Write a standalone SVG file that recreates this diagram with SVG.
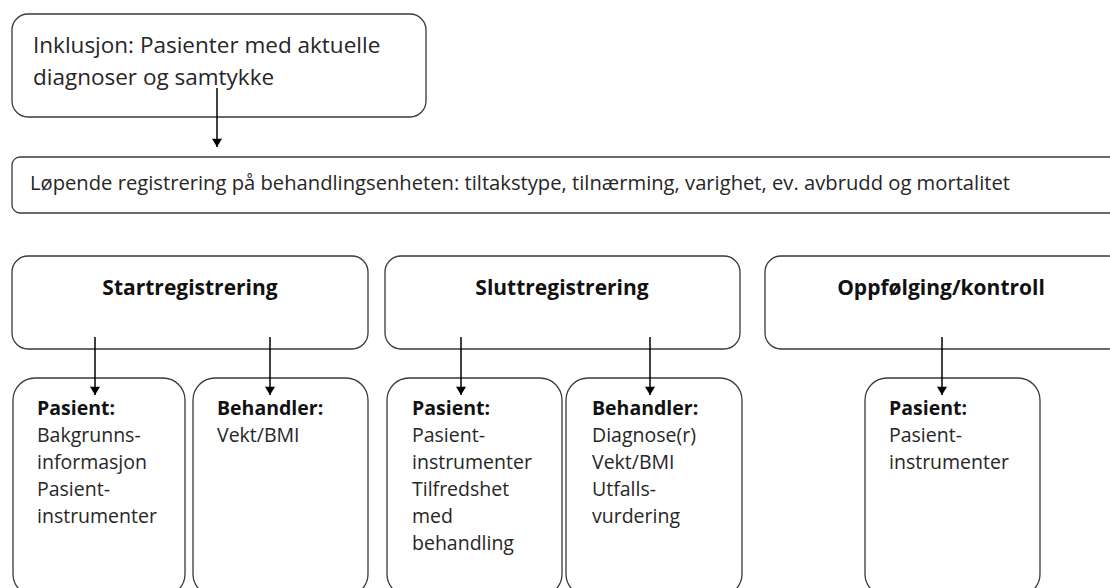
<svg xmlns="http://www.w3.org/2000/svg" width="1110" height="588" viewBox="0 0 1110 588">
  <defs>
    <marker id="arr" viewBox="0 0 10 12" refX="10" refY="6" markerWidth="12" markerHeight="10" markerUnits="userSpaceOnUse" orient="auto">
      <path d="M0,0 L10,6 L0,12 Z" fill="#000"/>
    </marker>
    <style>
      .box { fill: #fff; stroke: #3a3a3a; stroke-width: 1.3; }
      .t { font-family: "Open Sans", "Liberation Sans", sans-serif; fill: #262626; }
      .b { font-family: "Open Sans", "Liberation Sans", sans-serif; font-weight: bold; fill: #111; }
      .conn { stroke: #000; stroke-width: 1.5; fill: none; }
    </style>
  </defs>
  <rect width="1110" height="588" fill="#fff"/>

  <g id="inklusjon">
    <rect class="box" x="12" y="14" width="414" height="103" rx="16"/>
    <text class="t" font-size="22.5" x="33" y="53">Inklusjon: Pasienter med aktuelle</text>
    <text class="t" font-size="22.5" x="33" y="85">diagnoser og samtykke</text>
  </g>

  <g id="lopende">
    <rect class="box" x="12" y="157" width="1110" height="56" rx="8"/>
    <text class="t" font-size="20.2" x="30" y="190">Løpende registrering på behandlingsenheten: tiltakstype, tilnærming, varighet, ev. avbrudd og mortalitet</text>
  </g>

  <g id="start">
    <rect class="box" x="12" y="256" width="356" height="93" rx="16"/>
    <text class="b" font-size="21" x="190" y="295" text-anchor="middle">Startregistrering</text>
  </g>
  <g id="slutt">
    <rect class="box" x="385" y="256" width="355" height="93" rx="16"/>
    <text class="b" font-size="21" x="562" y="295" text-anchor="middle">Sluttregistrering</text>
  </g>
  <g id="oppfolging">
    <rect class="box" x="765" y="256" width="360" height="93" rx="16"/>
    <text class="b" font-size="21" x="941" y="295" text-anchor="middle">Oppfølging/kontroll</text>
  </g>

  <g id="start-pasient">
    <rect class="box" x="13" y="378" width="172" height="218" rx="22"/>
    <text class="b" font-size="19.5" x="37" y="415">Pasient:</text>
    <text class="t" font-size="19.5">
      <tspan x="37" y="442">Bakgrunns-</tspan>
      <tspan x="37" y="469">informasjon</tspan>
      <tspan x="37" y="496">Pasient-</tspan>
      <tspan x="37" y="523">instrumenter</tspan>
    </text>
  </g>
  <g id="start-behandler">
    <rect class="box" x="193" y="378" width="175" height="218" rx="22"/>
    <text class="b" font-size="19.5" x="217" y="415">Behandler:</text>
    <text class="t" font-size="19.5" x="217" y="442">Vekt/BMI</text>
  </g>
  <g id="slutt-pasient">
    <rect class="box" x="387" y="378" width="175" height="218" rx="22"/>
    <text class="b" font-size="19.5" x="412" y="415">Pasient:</text>
    <text class="t" font-size="19.5">
      <tspan x="412" y="442">Pasient-</tspan>
      <tspan x="412" y="469">instrumenter</tspan>
      <tspan x="412" y="496">Tilfredshet</tspan>
      <tspan x="412" y="523">med</tspan>
      <tspan x="412" y="550">behandling</tspan>
    </text>
  </g>
  <g id="slutt-behandler">
    <rect class="box" x="566" y="378" width="176" height="218" rx="22"/>
    <text class="b" font-size="19.5" x="592" y="415">Behandler:</text>
    <text class="t" font-size="19.5">
      <tspan x="592" y="442">Diagnose(r)</tspan>
      <tspan x="592" y="469">Vekt/BMI</tspan>
      <tspan x="592" y="496">Utfalls-</tspan>
      <tspan x="592" y="523">vurdering</tspan>
    </text>
  </g>
  <g id="oppfolging-pasient">
    <rect class="box" x="865" y="378" width="175" height="218" rx="22"/>
    <text class="b" font-size="19.5" x="889" y="415">Pasient:</text>
    <text class="t" font-size="19.5">
      <tspan x="889" y="442">Pasient-</tspan>
      <tspan x="889" y="469">instrumenter</tspan>
    </text>
  </g>

  <g id="connectors">
    <line class="conn" x1="217" y1="88" x2="217" y2="147" marker-end="url(#arr)"/>
    <line class="conn" x1="95" y1="337" x2="95" y2="395" marker-end="url(#arr)"/>
    <line class="conn" x1="270" y1="337" x2="270" y2="395" marker-end="url(#arr)"/>
    <line class="conn" x1="461" y1="337" x2="461" y2="395" marker-end="url(#arr)"/>
    <line class="conn" x1="650" y1="337" x2="650" y2="395" marker-end="url(#arr)"/>
    <line class="conn" x1="942" y1="337" x2="942" y2="395" marker-end="url(#arr)"/>
  </g>
</svg>
